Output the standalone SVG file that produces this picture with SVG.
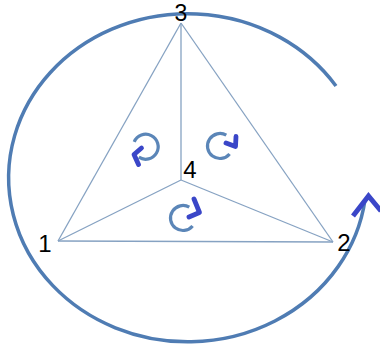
<svg xmlns="http://www.w3.org/2000/svg" width="380" height="349" viewBox="0 0 380 349">
<style>
.edge{stroke:#86a2c2;stroke-width:1.3;fill:none}
.big{stroke:#4f7cb3;stroke-width:3.5;fill:none}
.ring{stroke:#5b86b8;stroke-width:3.2;fill:none}
.head{stroke:#3a46c8;stroke-width:4.8;fill:none;stroke-linecap:round;stroke-linejoin:round}
.bighead{stroke:#3a46c8;stroke-width:5;fill:none;stroke-linejoin:miter}
.lbl{font-family:"Liberation Sans",Arial,sans-serif;font-size:24px;fill:#000;text-anchor:middle}
</style>
<rect width="380" height="349" fill="#fff"/>
<g id="cycle">
<path class="big" d="M 336 86 A 179 164 0 1 0 365 200"/>
<polyline class="bighead" points="353,216 368.5,196 381,211"/>
</g>
<g id="connectors">
<line class="edge" x1="181" y1="23" x2="58" y2="241"/>
<line class="edge" x1="181" y1="23" x2="333" y2="242"/>
<line class="edge" x1="58" y1="241" x2="333" y2="242"/>
<line class="edge" x1="181" y1="180" x2="58" y2="241"/>
<line class="edge" x1="181" y1="180" x2="333" y2="242"/>
<line class="edge" x1="181" y1="180" x2="181" y2="23"/>
</g>
<g id="node1"><text class="lbl" x="45" y="252">1</text></g>
<g id="node2"><text class="lbl" x="344" y="251">2</text></g>
<g id="node3"><text class="lbl" x="181" y="21" style="font-size:23px">3</text></g>
<g id="node4"><text class="lbl" x="190" y="178">4</text></g>
<g id="rot-left">
<path class="ring" d="M 134.2 141.8 A 12.5 12.5 0 1 1 138.8 157.2"/>
<polyline class="head" points="141.5,148 134,154.5 138.5,164.5"/>
</g>
<g id="rot-right">
<path class="ring" d="M 229.6 154 A 12.5 12.5 0 1 1 226.3 135.2"/>
<polyline class="head" points="236,136.5 235.5,146.5 226,143"/>
</g>
<g id="rot-bottom">
<path class="ring" d="M 192.6 226 A 12.5 12.5 0 1 1 189.3 207.2"/>
<polyline class="head" points="194,199 199.5,212.5 189,217"/>
</g>
</svg>
